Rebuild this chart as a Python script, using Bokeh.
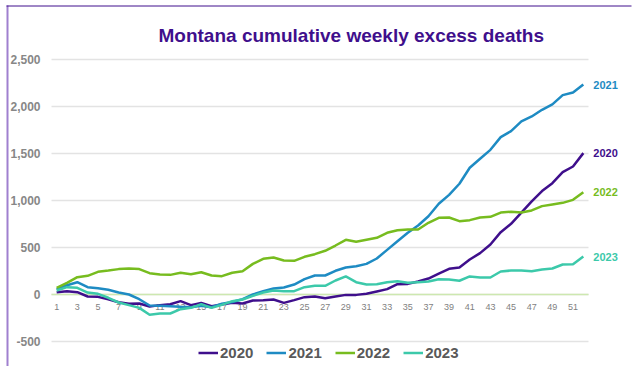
from bokeh.plotting import figure
from bokeh.models import Range1d, Legend, LegendItem, Label
from bokeh.core.properties import value
from bokeh.embed import file_html
from bokeh.resources import INLINE

weeks = list(range(1, 53))
week_ticks = list(range(1, 53, 2))
y_ticks = [-500, 0, 500, 1000, 1500, 2000, 2500]
y_tick_labels = ["-500", "0", "500", "1,000", "1,500", "2,000", "2,500"]

deaths_2020 = [25, 35, 25, -21, -25, -50, -82, -99, -96, -128, -113, -103, -71, -113, -89, -124, -106, -89, -95, -64,
               -60, -53, -89, -60, -28, -21, -39, -21, -4, -4, 7, 32, 57, 110, 113, 138, 170, 223, 273, 287,
               372, 440, 532, 663, 752, 872, 990, 1100, 1184, 1301, 1362, 1504]
deaths_2021 = [53, 99, 131, 78, 67, 50, 21, 0, -50, -117, -120, -124, -131, -135, -120, -135, -99, -80, -50, 0,
               35, 64, 74, 106, 163, 202, 202, 252, 287, 301, 326, 383, 475, 567, 656, 734, 833, 965, 1060, 1178,
               1348, 1444, 1539, 1674, 1738, 1841, 1894, 1965, 2022, 2121, 2149, 2234]
deaths_2022 = [71, 124, 184, 199, 241, 255, 270, 277, 270, 227, 213, 209, 231, 216, 237, 202, 195, 232, 248, 326,
               380, 394, 362, 358, 401, 429, 465, 521, 582, 561, 582, 603, 656, 684, 692, 692, 763, 816, 819, 780,
               791, 819, 826, 872, 880, 872, 894, 940, 958, 975, 1007, 1089]
deaths_2023 = [43, 78, 71, 21, 7, -35, -85, -113, -142, -216, -202, -202, -156, -142, -103, -142, -110, -71, -53, -14,
               21, 43, 35, 35, 78, 92, 92, 149, 192, 131, 106, 110, 131, 142, 124, 131, 138, 163, 160, 146,
               192, 181, 181, 245, 255, 255, 248, 266, 277, 319, 322, 404]

series = [
    ("2020", deaths_2020, "#3F0F8C"),
    ("2021", deaths_2021, "#1E8BC3"),
    ("2022", deaths_2022, "#77BC1F"),
    ("2023", deaths_2023, "#3CC9AA"),
]

FONT = "Liberation Sans"
W, H = 632, 366

# plot-area geometry (canvas pixels)
x_lo, x_hi = 0.5, 52.5            # band of the weeks
px_left, px_right = 51, 588        # canvas x of the band edges
px_per_x = (px_right - px_left) / (x_hi - x_lo)
y_zero_px, px_per_500 = 294, 47    # canvas y of 0, pixels per 500
px_per_y = px_per_500 / 500

x_start = x_lo - px_left / px_per_x
x_end = x_hi + (W - px_right) / px_per_x
y_end = y_zero_px / px_per_y
y_start = -(H - y_zero_px) / px_per_y


def px_to_x(px):
    return x_start + px / px_per_x


def px_to_y(py):
    return y_end - py / px_per_y


p = figure(width=W, height=H, output_backend="svg", toolbar_location=None,
           x_range=Range1d(x_start, x_end), y_range=Range1d(y_start, y_end),
           x_axis_location=None, y_axis_location=None,
           min_border=0, min_border_left=0, min_border_right=0, min_border_top=0, min_border_bottom=0)
p.outline_line_color = None
p.xgrid.visible = False
p.ygrid.visible = False
p.background_fill_color = "white"

# chart box borders (left lavender, top dark purple)
p.segment(x0=[px_to_x(7)], x1=[px_to_x(7)], y0=[px_to_y(5)], y1=[y_start],
          line_color="#A080CF", line_width=2)
p.segment(x0=[px_to_x(6)], x1=[px_to_x(631)], y0=[px_to_y(5.5)], y1=[px_to_y(5.5)],
          line_color="#3F0F8C", line_width=1)

# horizontal gridlines
p.segment(x0=[x_lo] * len(y_ticks), x1=[x_hi] * len(y_ticks), y0=y_ticks, y1=y_ticks,
          line_color="#E3E3E3", line_width=1.5)
# zero line
p.segment(x0=[x_lo], x1=[x_hi], y0=[0], y1=[0], line_color="#CDE8B0", line_width=1.5)

# y tick labels
p.text(x=[x_lo] * len(y_ticks), y=y_ticks, text=y_tick_labels, x_offset=-11,
       text_align="right", text_baseline="middle",
       text_font=value(FONT), text_font_size="12px", text_font_style="bold", text_color="#878787")

# week labels
p.text(x=week_ticks, y=[0] * len(week_ticks), text=[str(w) for w in week_ticks],
       y_offset=12, text_align="center", text_baseline="middle",
       text_font=value(FONT), text_font_size="9px", text_color="#7F7F7F")

items = []
for name, vals, color in series:
    r = p.line(weeks, vals, line_color=color, line_width=2.5)
    items.append(LegendItem(label=name, renderers=[r]))
    p.text(x=[weeks[-1]], y=[vals[-1]], text=[name], x_offset=10, text_baseline="middle",
           text_color=color, text_font=value(FONT), text_font_size="11px", text_font_style="bold")

# title
p.add_layout(Label(x=158, y=H - 35, x_units="screen", y_units="screen",
                   text="Montana cumulative weekly excess deaths", text_baseline="alphabetic",
                   text_font=FONT, text_font_size="19px", text_font_style="bold", text_color="#3F0F8C"))

legend = Legend(items=items, orientation="horizontal", location=(198, H - 361),
                padding=0, margin=0, spacing=13, glyph_width=20, glyph_height=15,
                label_height=15, label_standoff=2, border_line_color=None, background_fill_alpha=0,
                label_text_font=FONT, label_text_font_size="15px", label_text_font_style="bold",
                label_text_color="#595959")
p.add_layout(legend)

open("out.html", "w").write(file_html(p, INLINE))
